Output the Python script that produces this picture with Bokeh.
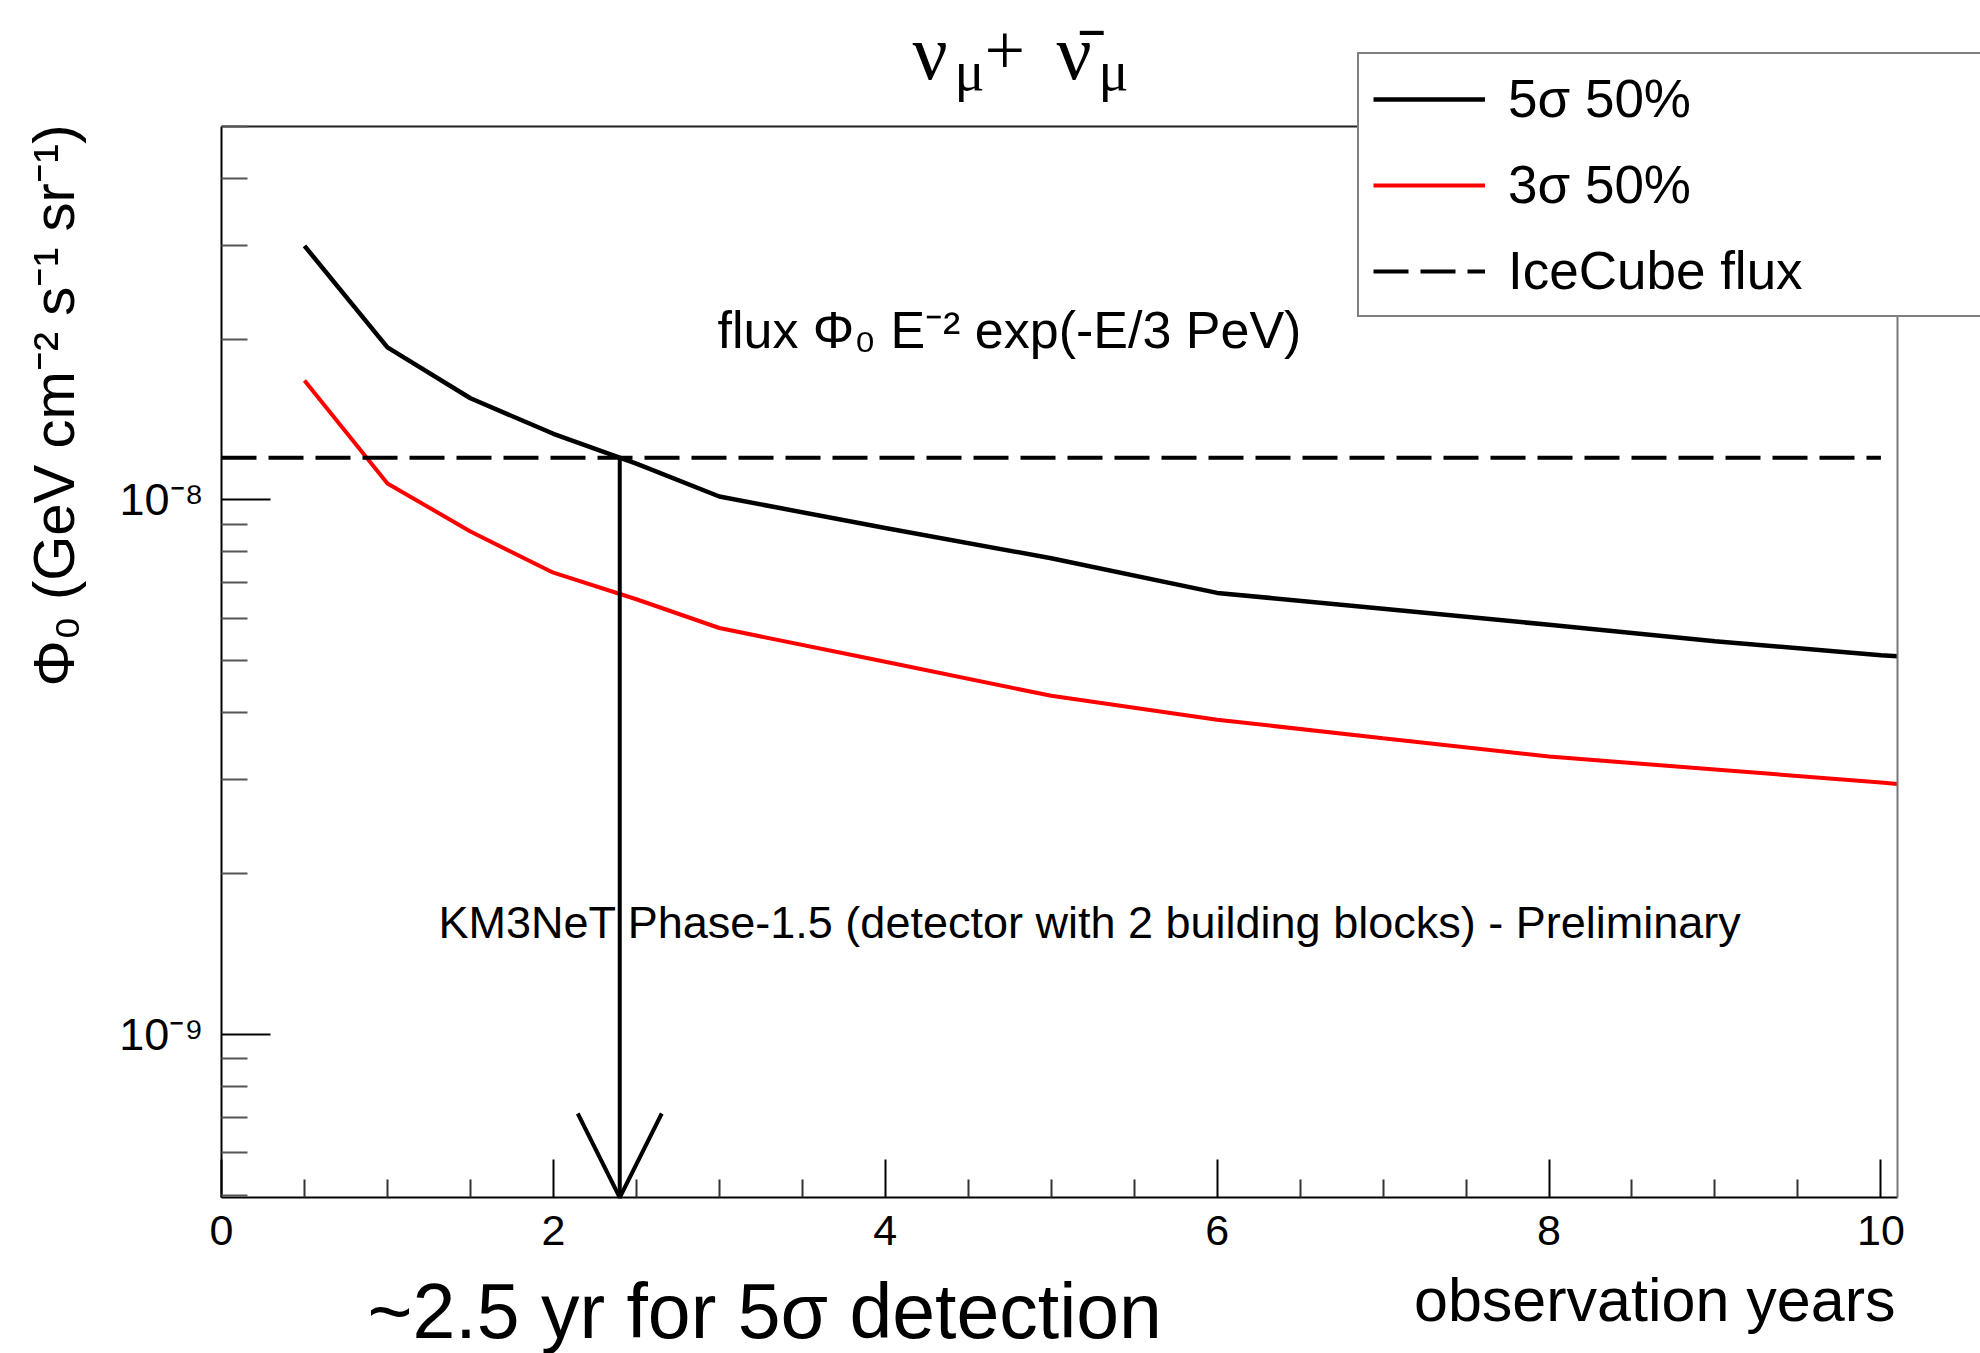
import math
from bokeh.plotting import figure
from bokeh.models import (Range1d, FixedTicker, CustomJSTickFormatter, Label,
                          Legend, LegendItem, Arrow, OpenHead, LinearAxis,
                          LogAxis, LogScale)
from bokeh.embed import file_html
from bokeh.resources import INLINE

# ---------------- data ----------------
years = [0.5, 1.0, 1.5, 2.0, 2.5, 3.0, 4.0, 5.0, 6.0, 7.0, 8.0, 9.0, 10.0, 10.1]
five_sigma_50 = [2.99e-8, 1.93e-8, 1.55e-8, 1.33e-8, 1.17e-8, 1.015e-8, 8.86e-9,
                 7.78e-9, 6.70e-9, 6.26e-9, 5.84e-9, 5.44e-9, 5.12e-9, 5.10e-9]
three_sigma_50 = [1.673e-8, 1.074e-8, 8.73e-9, 7.31e-9, 6.52e-9, 5.76e-9, 4.98e-9,
                  4.30e-9, 3.88e-9, 3.58e-9, 3.31e-9, 3.13e-9, 2.96e-9, 2.94e-9]
icecube_years = [0.0, 10.0]
icecube_flux = [1.2e-8, 1.2e-8]
detection_year = 2.4

x_min, x_max = 0.0, 10.1
y_min, y_max = 4.95e-10, 5e-8
x_major_ticks = [0, 2, 4, 6, 8, 10]
x_minor_ticks = [0.5, 1, 1.5, 2.5, 3, 3.5, 4.5, 5, 5.5, 6.5, 7, 7.5, 8.5, 9, 9.5]
y_major_ticks = [1e-9, 1e-8]
y_minor_ticks = [5e-10, 6e-10, 7e-10, 8e-10, 9e-10,
                 2e-9, 3e-9, 4e-9, 5e-9, 6e-9, 7e-9, 8e-9, 9e-9,
                 2e-8, 3e-8, 4e-8, 5e-8]
legend_labels = ["5σ 50%", "3σ 50%", "IceCube flux"]

# ---------------- layout ----------------
W, H = 1980, 1353
FL, FR, FT, FB = 221, 1897, 126, 1197      # pixel box of the ROOT frame
FONT = "Liberation Sans"
SERIF = "Liberation Serif"

# the plotting frame covers the whole canvas; the ROOT frame is drawn with
# bounded axes placed at fixed data locations
px_per_x = (FR - FL) / (x_max - x_min)
XL = x_min - FL / px_per_x
XR = x_max + (W - FR) / px_per_x
ly0, ly1 = math.log10(y_min), math.log10(y_max)
px_per_dec = (FB - FT) / (ly1 - ly0)
YT = 10 ** (ly1 + FT / px_per_dec)
YB = 10 ** (ly0 - (H - FB) / px_per_dec)

p = figure(width=W, height=H, x_range=Range1d(XL, XR), y_range=Range1d(YB, YT),
           y_axis_type="log", x_axis_location=None, y_axis_location=None,
           output_backend="svg", toolbar_location=None, title=None,
           min_border=0, min_border_left=0, min_border_right=0,
           min_border_top=0, min_border_bottom=0)
p.y_scale = LogScale()
p.background_fill_color = "white"
p.border_fill_color = "white"
p.outline_line_color = None
p.xgrid.visible = False
p.ygrid.visible = False

xa = LinearAxis(fixed_location=y_min, bounds=(x_min, x_max),
                ticker=FixedTicker(ticks=x_major_ticks, minor_ticks=x_minor_ticks))
xa.major_tick_in = 38
xa.major_tick_out = 0
xa.minor_tick_in = 18
xa.minor_tick_out = 0
xa.major_tick_line_width = 2
xa.minor_tick_line_width = 2
xa.major_tick_line_color = "black"
xa.minor_tick_line_color = "#333333"
xa.axis_line_width = 2
xa.axis_line_color = "black"
xa.major_label_text_font = FONT
xa.major_label_text_font_size = "43px"
xa.major_label_text_color = "black"
xa.major_label_standoff = 18
p.add_layout(xa, "below")

ya = LogAxis(fixed_location=x_min, bounds=(y_min, y_max),
             ticker=FixedTicker(ticks=y_major_ticks, minor_ticks=y_minor_ticks))
ya.formatter = CustomJSTickFormatter(code="""
const sup = {"-": "\u207b", "0": "\u2070", "1": "\u00b9", "2": "\u00b2", "3": "\u00b3",
             "4": "\u2074", "5": "\u2075", "6": "\u2076", "7": "\u2077", "8": "\u2078", "9": "\u2079"};
const e = Math.round(Math.log10(tick));
return "10" + String(e).split("").map(c => sup[c]).join("");
""")
ya.major_tick_in = 49
ya.major_tick_out = 0
ya.minor_tick_in = 26
ya.minor_tick_out = 0
ya.major_tick_line_width = 2
ya.minor_tick_line_width = 2
ya.major_tick_line_color = "black"
ya.minor_tick_line_color = "#555555"
ya.axis_line_width = 2
ya.axis_line_color = "black"
ya.major_label_text_font = FONT
ya.major_label_text_font_size = "45px"
ya.major_label_text_color = "black"
ya.major_label_standoff = 18
p.add_layout(ya, "left")

# top and right frame edges (axes without ticks)
top = LinearAxis(fixed_location=y_max, bounds=(x_min, x_max),
                 ticker=FixedTicker(ticks=[], minor_ticks=[]),
                 axis_line_width=2, axis_line_color="#222222",
                 major_tick_in=0, major_tick_out=0, minor_tick_in=0, minor_tick_out=0)
p.add_layout(top, "above")
right = LogAxis(fixed_location=x_max, bounds=(y_min, y_max),
                ticker=FixedTicker(ticks=[], minor_ticks=[]),
                axis_line_width=2, axis_line_color="#777777",
                major_tick_in=0, major_tick_out=0, minor_tick_in=0, minor_tick_out=0)
p.add_layout(right, "right")

# ---------------- curves ----------------
r5 = p.line(years, five_sigma_50, line_color="black", line_width=4.5)
r3 = p.line(years, three_sigma_50, line_color="#ff0000", line_width=4)
ric = p.line(icecube_years, icecube_flux, line_color="black", line_width=4,
             line_dash="35 12")

p.add_layout(Arrow(end=OpenHead(size=84, line_width=4, line_color="black"),
                   x_start=detection_year, y_start=icecube_flux[0],
                   x_end=detection_year, y_end=y_min,
                   line_width=4, line_color="black"))

# ---------------- legend ----------------
legend = Legend(items=[LegendItem(label=legend_labels[0], renderers=[r5]),
                       LegendItem(label=legend_labels[1], renderers=[r3]),
                       LegendItem(label=legend_labels[2], renderers=[ric])],
                location=(1357, H - 317),
                label_text_font=FONT, label_text_font_size="53px",
                label_text_color="black",
                glyph_width=112, glyph_height=60, label_height=60,
                spacing=25, padding=14, margin=0, label_standoff=23,
                label_width=560,
                border_line_color="black", border_line_width=2,
                background_fill_color="white", background_fill_alpha=1.0)
p.add_layout(legend)


# ---------------- texts ----------------
def add_text(text, X, Y, size, font=FONT, align="left", baseline="alphabetic", angle=0.0):
    p.add_layout(Label(x=X, y=H - Y, x_units="screen", y_units="screen",
                       text=text, text_font=font, text_font_size=f"{size}px",
                       text_align=align, text_baseline=baseline, angle=angle,
                       text_color="black"))


# title: nu_mu + anti-nu_mu
add_text("ν", 912, 52, 78, font=SERIF)
add_text("μ", 954, 70, 56, font=SERIF)
add_text("+", 984, 50, 72, font=SERIF)
add_text("ν\u0304", 1056, 52, 78, font=SERIF)
add_text("μ", 1098, 70, 56, font=SERIF)

add_text("Φ₀ (GeV cm⁻² s⁻¹ sr⁻¹)", 53, 124, 58, align="right", angle=math.pi / 2)
add_text("flux Φ₀ E⁻² exp(-E/3 PeV)", 717, 329, 52)
add_text("KM3NeT Phase-1.5 (detector with 2 building blocks) - Preliminary", 438, 922, 45)
add_text("observation years", 1895, 1299, 61, align="right")
add_text("~2.5 yr for 5σ detection", 367, 1310, 77)

open("out.html", "w").write(file_html(p, INLINE))
